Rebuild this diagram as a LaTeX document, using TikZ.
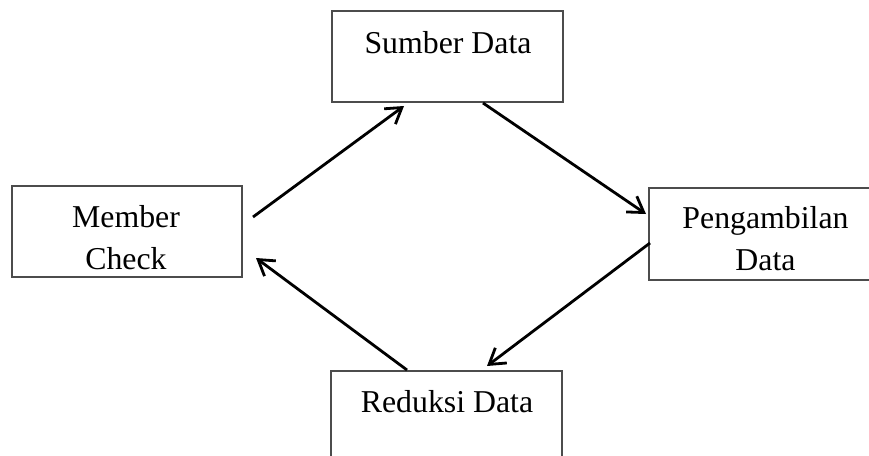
\documentclass[tikz,border=0pt]{standalone}
\usepackage{fontspec}
\setmainfont{Liberation Serif}
\usetikzlibrary{arrows.meta}
\begin{document}
\begin{tikzpicture}[x=1pt,y=-1pt,
  box/.style={draw=black!70, line width=1.1pt, rectangle, inner sep=0pt, outer sep=0pt},
  lbl/.style={font=\fontsize{31.8}{42}\selectfont, inner sep=0pt, align=center},
  flow/.style={line width=2.8pt, -{Straight Barb[length=15pt,width=19pt]}}]
  \useasboundingbox (0,0) rectangle (869,455);
  \fill[white] (0,0) rectangle (869,455);
  \clip (0,0) rectangle (869,455);

  % the four stages of the cycle
  \node[box, minimum width=231pt, minimum height=91pt] (sd) at (447.5,56.5) {};
  \node[box, minimum width=230pt, minimum height=91pt] (mc) at (127,231.5) {};
  \node[box, minimum width=233pt, minimum height=92pt] (pd) at (765.5,234) {};
  \node[box, minimum width=231pt, minimum height=91pt] (rd) at (446.5,416.5) {};

  % stage labels
  \node[lbl, anchor=base] (sdt) at (448,53) {Sumber Data};
  \node[lbl] (mct) at (126,238) {Member\\Check};
  \node[lbl] (pdt) at (765.5,238.5) {Pengambilan\\Data};
  \node[lbl, anchor=base] (rdt) at (447,412) {Reduksi Data};

  % cycle arrows
  \draw[flow] ([shift={(11,-14.5)}]mc.east) -- ([shift={(-43.5,4)}]sd.south);
  \draw[flow] ([shift={(35.5,1)}]sd.south) -- ([shift={(-3,-20)}]pd.west);
  \draw[flow] ([shift={(1,9)}]pd.west) -- ([shift={(40.5,-5)}]rd.north);
  \draw[flow] ([shift={(-39.5,-1)}]rd.north) -- ([shift={(14,26.5)}]mc.east);
\end{tikzpicture}
\end{document}
